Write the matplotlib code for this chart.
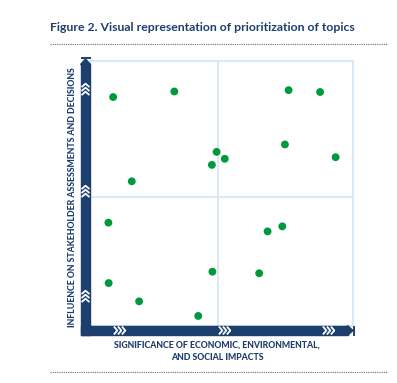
import numpy as np
import matplotlib
matplotlib.use("Agg")
import matplotlib.pyplot as plt
from matplotlib.patches import Rectangle, Polygon
from matplotlib.lines import Line2D

# data (0-10 scale on both axes)
significance = [0.88, 3.21, 1.59, 4.82, 4.64, 5.13, 7.56, 8.76, 7.42, 9.35,
                0.70, 0.71, 1.87, 4.12, 4.66, 6.44, 6.76, 7.32]
influence = [8.64, 8.85, 5.46, 6.57, 6.08, 6.31, 8.90, 8.83, 6.85, 6.37,
             3.90, 1.62, 0.93, 0.38, 2.05, 1.99, 3.57, 3.76]
x_split = 4.86
y_split = 4.87

title = "Figure 2. Visual representation of prioritization of topics"
xlabel = "SIGNIFICANCE OF ECONOMIC, ENVIRONMENTAL,\nAND SOCIAL IMPACTS"
ylabel = "INFLUENCE ON STAKEHOLDER ASSESSMENTS AND DECISIONS"

NAVY = '#1c3f6e'
GREEN = '#009a3d'
GRID = '#dbe8f6'
W, H = 397, 383

fig = plt.figure(figsize=(W / 100, H / 100), dpi=100)


def fx(x):
    return x / W


def fy(y):
    return 1 - y / H


# plot box
ax = fig.add_axes([fx(90), fy(326), (352.7 - 90) / W, (326 - 61) / H])
ax.set_xlim(0, 10)
ax.set_ylim(0, 10)
ax.set_xticks([])
ax.set_yticks([])
for s in ax.spines.values():
    s.set_color(GRID)
    s.set_linewidth(1.5)
ax.axvline(x_split, color=GRID, lw=1.5, zorder=1)
ax.axhline(y_split, color=GRID, lw=1.5, zorder=1)

ax.scatter(significance, influence, s=32, color=GREEN, edgecolors='none', zorder=3)

# thick axis bars
tf = fig.transFigure
fig.patches.append(Rectangle((fx(81), fy(335)), 9 / W, (335 - 64) / H,
                             color=NAVY, transform=tf, zorder=5))
fig.patches.append(Rectangle((fx(81), fy(335)), (348 - 81) / W, 9 / H,
                             color=NAVY, transform=tf, zorder=5))
# arrow heads with end caps
fig.patches.append(Polygon([(fx(80.5), fy(64.5)), (fx(90.5), fy(64.5)), (fx(85.5), fy(59))],
                           closed=True, color=NAVY, transform=tf, zorder=5))
fig.lines.append(Line2D([fx(81.5), fx(89.5)], [fy(57.8), fy(57.8)], color=NAVY, lw=1.4,
                        transform=tf, zorder=5))
fig.patches.append(Polygon([(fx(347.5), fy(325.5)), (fx(347.5), fy(335.5)), (fx(353), fy(330.5))],
                           closed=True, color=NAVY, transform=tf, zorder=5))
fig.lines.append(Line2D([fx(354.2), fx(354.2)], [fy(326.5), fy(334.5)], color=NAVY, lw=1.4,
                        transform=tf, zorder=5))

# white chevrons on the bars
for cx in [120, 225, 329]:
    for k in range(3):
        x0 = cx - 5.5 + k * 4
        fig.lines.append(Line2D([fx(x0), fx(x0 + 2.8), fx(x0)],
                                [fy(327.2), fy(330.5), fy(333.8)],
                                color='white', lw=1.3, transform=tf, zorder=6))
for cy in [89, 191, 296]:
    for k in range(3):
        y0 = cy + 5.5 - k * 4
        fig.lines.append(Line2D([fx(82.2), fx(85.5), fx(88.8)],
                                [fy(y0), fy(y0 - 2.8), fy(y0)],
                                color='white', lw=1.3, transform=tf, zorder=6))

# texts
fig.text(fx(50), fy(30.7), title, fontsize=8.8, fontweight='bold', color=NAVY,
         family='Lato', ha='left', va='baseline')
fig.text(fx(217), fy(341), xlabel, fontsize=6.3, fontweight='black', color=NAVY,
         family='Lato', ha='center', va='top', linespacing=1.5)
fig.text(fx(73), fy(197), ylabel, fontsize=6.3, fontweight='black', color=NAVY,
         family='Lato', ha='center', va='center', rotation=90)

# dotted separators
fig.lines.append(Line2D([fx(50), fx(387)], [fy(43.5), fy(43.5)], color='#5b6e8c', lw=0.8,
                        linestyle=(0, (1, 1)), transform=tf))
fig.lines.append(Line2D([fx(50), fx(387)], [fy(371.5), fy(371.5)], color='#5b6e8c', lw=0.8,
                        linestyle=(0, (1, 1)), transform=tf))

fig.savefig('out.png', dpi=100)
